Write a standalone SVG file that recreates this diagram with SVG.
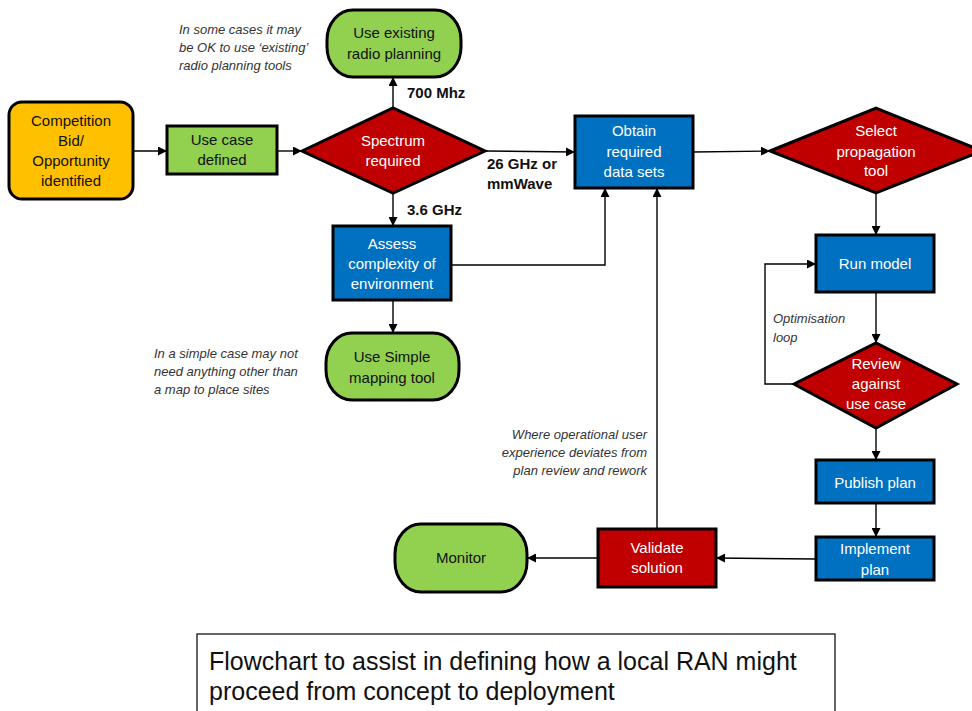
<svg xmlns="http://www.w3.org/2000/svg" width="972" height="711" viewBox="0 0 972 711">
  <defs>
    <marker id="arrow" viewBox="0 0 10 10" refX="10" refY="5" markerUnits="userSpaceOnUse" markerWidth="9" markerHeight="9" orient="auto">
      <path d="M0,0 L10,5 L0,10 z" fill="#000"/>
    </marker>
    <style>
      .node { stroke: #000; stroke-width: 3; }
      .orange { fill: #FFC000; }
      .green { fill: #92D050; }
      .blue { fill: #0070C0; }
      .red { fill: #C00000; }
      .t { font-family: "Liberation Sans", Arial, sans-serif; font-size: 15px; text-anchor: middle; }
      .w { fill: #fff; }
      .k { fill: #111; }
      .lbl { font-family: "Liberation Sans", Arial, sans-serif; font-size: 15px; font-weight: bold; fill: #111; }
      .note { font-family: "Liberation Sans", Arial, sans-serif; font-size: 13px; font-style: italic; fill: #333; }
      .conn { fill: none; stroke: #000; stroke-width: 1.4; }
    </style>
  </defs>
  <rect width="972" height="711" fill="#fff"/>

  <!-- connectors -->
  <g id="connectors">
    <line class="conn" x1="133" y1="151" x2="167" y2="151" stroke-width="3" marker-end="url(#arrow)"/>
    <line class="conn" x1="277" y1="151" x2="302" y2="151" marker-end="url(#arrow)"/>
    <line class="conn" x1="393" y1="108" x2="393" y2="77" marker-end="url(#arrow)"/>
    <line class="conn" x1="486" y1="151" x2="575" y2="152" marker-end="url(#arrow)"/>
    <line class="conn" x1="393" y1="193" x2="393" y2="226" marker-end="url(#arrow)"/>
    <polyline class="conn" points="451,265 605,265 605,188" marker-end="url(#arrow)"/>
    <line class="conn" x1="393" y1="300" x2="393" y2="333" marker-end="url(#arrow)"/>
    <line class="conn" x1="693" y1="152" x2="770" y2="151" marker-end="url(#arrow)"/>
    <line class="conn" x1="876" y1="193" x2="876" y2="235" marker-end="url(#arrow)"/>
    <line class="conn" x1="876" y1="292" x2="876" y2="343" marker-end="url(#arrow)"/>
    <polyline class="conn" points="794,384 765,384 765,264 816,264" marker-end="url(#arrow)"/>
    <line class="conn" x1="876" y1="428" x2="876" y2="460" marker-end="url(#arrow)"/>
    <line class="conn" x1="876" y1="503" x2="876" y2="537" marker-end="url(#arrow)"/>
    <line class="conn" x1="816" y1="559" x2="716" y2="558" marker-end="url(#arrow)"/>
    <line class="conn" x1="598" y1="558" x2="527" y2="558" marker-end="url(#arrow)"/>
    <line class="conn" x1="657" y1="529" x2="657" y2="188" marker-end="url(#arrow)"/>
  </g>

  <!-- branch labels -->
  <g id="labels">
    <text class="lbl" x="407" y="98">700 Mhz</text>
    <text class="lbl" x="487" y="169">26 GHz or</text>
    <text class="lbl" x="487" y="189">mmWave</text>
    <text class="lbl" x="407" y="215">3.6 GHz</text>
  </g>

  <!-- notes -->
  <g id="notes">
    <text class="note" x="179" y="34">In some cases it may</text>
    <text class="note" x="179" y="52">be OK to use ‘existing’</text>
    <text class="note" x="179" y="70">radio planning tools</text>
    <text class="note" x="154" y="358">In a simple case may not</text>
    <text class="note" x="154" y="376">need anything other than</text>
    <text class="note" x="154" y="394">a map to place sites</text>
    <text class="note" x="773" y="323">Optimisation</text>
    <text class="note" x="773" y="342">loop</text>
    <text class="note" x="647" y="439" text-anchor="end">Where operational user</text>
    <text class="note" x="647" y="457" text-anchor="end">experience deviates from</text>
    <text class="note" x="647" y="475" text-anchor="end">plan review and rework</text>
  </g>

  <g id="competition">
    <rect class="node orange" x="9" y="102" width="124" height="97" rx="13"/>
    <text class="t k" x="71" y="126">Competition</text>
    <text class="t k" x="71" y="146">Bid/</text>
    <text class="t k" x="71" y="166">Opportunity</text>
    <text class="t k" x="71" y="186">identified</text>
  </g>

  <g id="use-case">
    <rect class="node green" x="167" y="126" width="110" height="48"/>
    <text class="t k" x="222" y="145">Use case</text>
    <text class="t k" x="222" y="165">defined</text>
  </g>

  <g id="spectrum">
    <polygon class="node red" points="302,151 393,108 485,151 393,193"/>
    <text class="t w" x="393" y="146">Spectrum</text>
    <text class="t w" x="393" y="166">required</text>
  </g>

  <g id="use-existing">
    <rect class="node green" x="327" y="10" width="134" height="67" rx="26" ry="30"/>
    <text class="t k" x="394" y="38">Use existing</text>
    <text class="t k" x="394" y="59">radio planning</text>
  </g>

  <g id="assess">
    <rect class="node blue" x="333" y="226" width="118" height="74"/>
    <text class="t w" x="392" y="249">Assess</text>
    <text class="t w" x="392" y="269">complexity of</text>
    <text class="t w" x="392" y="289">environment</text>
  </g>

  <g id="use-simple">
    <rect class="node green" x="326" y="333" width="133" height="67" rx="26" ry="30"/>
    <text class="t k" x="392" y="362">Use Simple</text>
    <text class="t k" x="392" y="383">mapping tool</text>
  </g>

  <g id="obtain">
    <rect class="node blue" x="575" y="116" width="118" height="72"/>
    <text class="t w" x="634" y="136">Obtain</text>
    <text class="t w" x="634" y="157">required</text>
    <text class="t w" x="634" y="177">data sets</text>
  </g>

  <g id="select">
    <polygon class="node red" points="770,151 876,108 982,151 876,193"/>
    <text class="t w" x="876" y="136">Select</text>
    <text class="t w" x="876" y="157">propagation</text>
    <text class="t w" x="876" y="176">tool</text>
  </g>

  <g id="run-model">
    <rect class="node blue" x="816" y="235" width="118" height="57"/>
    <text class="t w" x="875" y="269">Run model</text>
  </g>

  <g id="review">
    <polygon class="node red" points="794,384 876,343 957,384 876,428"/>
    <text class="t w" x="876" y="369">Review</text>
    <text class="t w" x="876" y="389">against</text>
    <text class="t w" x="876" y="409">use case</text>
  </g>

  <g id="publish">
    <rect class="node blue" x="816" y="460" width="118" height="43"/>
    <text class="t w" x="875" y="488">Publish plan</text>
  </g>

  <g id="implement">
    <rect class="node blue" x="816" y="537" width="118" height="43"/>
    <text class="t w" x="875" y="554">Implement</text>
    <text class="t w" x="875" y="575">plan</text>
  </g>

  <g id="validate">
    <rect class="node red" x="598" y="529" width="118" height="58"/>
    <text class="t w" x="657" y="553">Validate</text>
    <text class="t w" x="657" y="573">solution</text>
  </g>

  <g id="monitor">
    <rect class="node green" x="395" y="524" width="132" height="68" rx="26" ry="30"/>
    <text class="t k" x="461" y="563">Monitor</text>
  </g>

  <g id="caption">
    <rect x="197" y="634" width="638" height="90" fill="#fff" stroke="#000" stroke-width="1.2"/>
    <text x="209" y="670" font-family="'Liberation Sans', Arial, sans-serif" font-size="25" fill="#111">Flowchart to assist in defining how a local RAN might</text>
    <text x="209" y="700" font-family="'Liberation Sans', Arial, sans-serif" font-size="25" fill="#111">proceed from concept to deployment</text>
  </g>
</svg>
